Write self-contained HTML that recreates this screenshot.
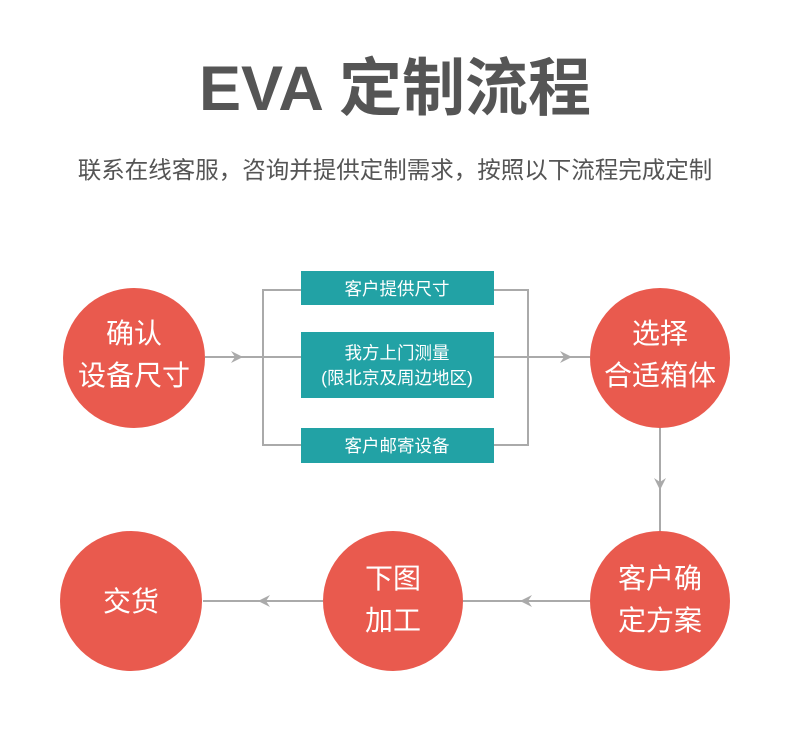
<!DOCTYPE html>
<html><head><meta charset="utf-8"><style>
body{margin:0;width:790px;height:731px;background:#fff;overflow:hidden;position:relative;font-family:"Liberation Sans","Noto Sans CJK SC",sans-serif}
.t{position:absolute;left:0;width:790px;text-align:center}
</style></head><body>
<div class="t" style="top:38px;font-size:63px;font-weight:bold;color:#555;letter-spacing:0px">EVA 定制流程</div>
<div class="t" style="top:151px;font-size:23.5px;color:#555">联系在线客服，咨询并提供定制需求，按照以下流程完成定制</div>
<svg width="790" height="731" style="position:absolute;left:0;top:0">
<g stroke="#aaa" stroke-width="2" fill="none">
<line x1="205" y1="357" x2="301" y2="357"/>
<polyline points="301,290 263,290 263,445 301,445"/>
<polyline points="494,290 528,290 528,445 494,445"/>
<line x1="494" y1="357" x2="590" y2="357"/>
<line x1="660" y1="427" x2="660" y2="532"/>
<line x1="590" y1="601" x2="463" y2="601"/>
<line x1="323" y1="601" x2="203" y2="601"/>
</g>
<g fill="#aaa">
<polygon points="243,357 231,351 235,357 231,363"/>
<polygon points="572,357 560,351 564,357 560,363"/>
<polygon points="660,490 654,478 660,482 666,478"/>
<polygon points="520,601 532,595 528,601 532,607"/>
<polygon points="258,601 270,595 266,601 270,607"/>
</g>
<g fill="#e95a4e">
<ellipse cx="134" cy="358" rx="71" ry="70"/>
<ellipse cx="660" cy="358" rx="70" ry="70"/>
<ellipse cx="131" cy="601" rx="71" ry="70"/>
<ellipse cx="393" cy="601" rx="70" ry="70"/>
<ellipse cx="660" cy="601" rx="70" ry="70"/>
</g>
<g fill="#22a2a5">
<rect x="301" y="271" width="193" height="34"/>
<rect x="301" y="332" width="193" height="66"/>
<rect x="301" y="428" width="193" height="35"/>
</g>
<g fill="#fff" font-size="28" text-anchor="middle" font-family="Liberation Sans, Noto Sans CJK SC, sans-serif">
<text x="134" y="343">确认</text><text x="134" y="385">设备尺寸</text>
<text x="660" y="343">选择</text><text x="660" y="385">合适箱体</text>
<text x="131" y="611">交货</text>
<text x="393" y="588">下图</text><text x="393" y="630">加工</text>
<text x="660" y="588">客户确</text><text x="660" y="630">定方案</text>
</g>
<g fill="#fff" font-size="17.5" text-anchor="middle" font-family="Liberation Sans, Noto Sans CJK SC, sans-serif">
<text x="397" y="295">客户提供尺寸</text>
<text x="397" y="359">我方上门测量</text>
<text x="397" y="384">(限北京及周边地区)</text>
<text x="397" y="452">客户邮寄设备</text>
</g>
</svg>
</body></html>
